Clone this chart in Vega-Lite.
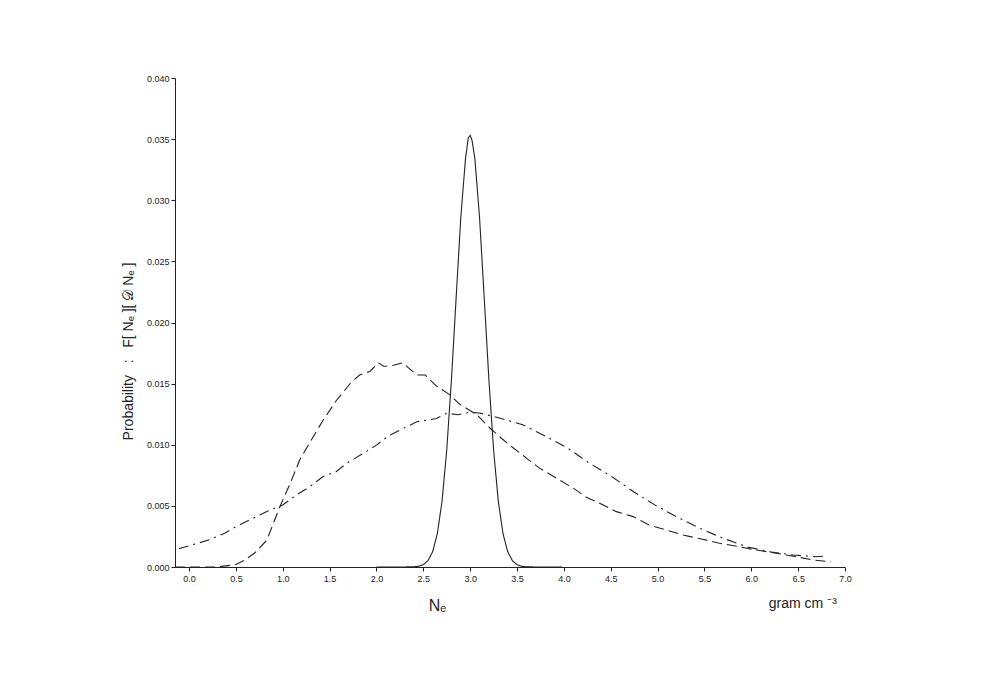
{
  "$schema": "https://vega.github.io/schema/vega-lite/v6.json",
  "width": 670,
  "height": 489,
  "autosize": "none",
  "padding": {"left": 175, "top": 78, "right": 136, "bottom": 116},
  "background": "white",
  "config": {
    "view": {"stroke": null},
    "font": "Liberation Sans",
    "axis": {
      "domainColor": "#222",
      "tickColor": "#222",
      "labelColor": "#222",
      "titleColor": "#222",
      "labelFont": "Liberation Sans",
      "titleFont": "Liberation Sans",
      "labelFontSize": 9,
      "grid": false,
      "titleFontWeight": "normal"
    }
  },
  "datasets": {
    "curves": [
      {"x": 2.0, "y": 0.0, "s": "narrow"},
      {"x": 2.3, "y": 0.0, "s": "narrow"},
      {"x": 2.35, "y": 0.00002, "s": "narrow"},
      {"x": 2.4, "y": 0.00002, "s": "narrow"},
      {"x": 2.45, "y": 0.00006, "s": "narrow"},
      {"x": 2.5, "y": 0.00019, "s": "narrow"},
      {"x": 2.55, "y": 0.00052, "s": "narrow"},
      {"x": 2.6, "y": 0.00126, "s": "narrow"},
      {"x": 2.65, "y": 0.00274, "s": "narrow"},
      {"x": 2.7, "y": 0.0054, "s": "narrow"},
      {"x": 2.75, "y": 0.00957, "s": "narrow"},
      {"x": 2.8, "y": 0.0153, "s": "narrow"},
      {"x": 2.85, "y": 0.022, "s": "narrow"},
      {"x": 2.9, "y": 0.0286, "s": "narrow"},
      {"x": 2.95, "y": 0.0334, "s": "narrow"},
      {"x": 2.98, "y": 0.0351, "s": "narrow"},
      {"x": 3.0, "y": 0.0353, "s": "narrow"},
      {"x": 3.02, "y": 0.0349, "s": "narrow"},
      {"x": 3.05, "y": 0.0334, "s": "narrow"},
      {"x": 3.1, "y": 0.0286, "s": "narrow"},
      {"x": 3.15, "y": 0.022, "s": "narrow"},
      {"x": 3.2, "y": 0.0153, "s": "narrow"},
      {"x": 3.25, "y": 0.00957, "s": "narrow"},
      {"x": 3.3, "y": 0.0054, "s": "narrow"},
      {"x": 3.35, "y": 0.00274, "s": "narrow"},
      {"x": 3.4, "y": 0.00126, "s": "narrow"},
      {"x": 3.45, "y": 0.00052, "s": "narrow"},
      {"x": 3.5, "y": 0.00019, "s": "narrow"},
      {"x": 3.55, "y": 0.00006, "s": "narrow"},
      {"x": 3.6, "y": 0.00002, "s": "narrow"},
      {"x": 3.7, "y": 0.0, "s": "narrow"},
      {"x": 3.98, "y": 0.0, "s": "narrow"},

      {"x": -0.15, "y": 0.0, "s": "dashed"},
      {"x": 0.3, "y": 0.0, "s": "dashed"},
      {"x": 0.5, "y": 0.0002, "s": "dashed"},
      {"x": 0.6, "y": 0.0006, "s": "dashed"},
      {"x": 0.7, "y": 0.00114, "s": "dashed"},
      {"x": 0.83, "y": 0.0022, "s": "dashed"},
      {"x": 0.97, "y": 0.00495, "s": "dashed"},
      {"x": 1.08, "y": 0.00685, "s": "dashed"},
      {"x": 1.18, "y": 0.00875, "s": "dashed"},
      {"x": 1.29, "y": 0.0102, "s": "dashed"},
      {"x": 1.43, "y": 0.012, "s": "dashed"},
      {"x": 1.57, "y": 0.0136, "s": "dashed"},
      {"x": 1.73, "y": 0.0151, "s": "dashed"},
      {"x": 1.82, "y": 0.0157, "s": "dashed"},
      {"x": 1.93, "y": 0.016, "s": "dashed"},
      {"x": 2.02, "y": 0.0167, "s": "dashed"},
      {"x": 2.08, "y": 0.0164, "s": "dashed"},
      {"x": 2.18, "y": 0.0165, "s": "dashed"},
      {"x": 2.28, "y": 0.0167, "s": "dashed"},
      {"x": 2.43, "y": 0.0157, "s": "dashed"},
      {"x": 2.52, "y": 0.0157, "s": "dashed"},
      {"x": 2.64, "y": 0.0148, "s": "dashed"},
      {"x": 2.78, "y": 0.0141, "s": "dashed"},
      {"x": 2.89, "y": 0.0133, "s": "dashed"},
      {"x": 3.07, "y": 0.01246, "s": "dashed"},
      {"x": 3.21, "y": 0.01137, "s": "dashed"},
      {"x": 3.33, "y": 0.01055, "s": "dashed"},
      {"x": 3.44, "y": 0.00986, "s": "dashed"},
      {"x": 3.6, "y": 0.00891, "s": "dashed"},
      {"x": 3.74, "y": 0.00809, "s": "dashed"},
      {"x": 3.92, "y": 0.00727, "s": "dashed"},
      {"x": 4.1, "y": 0.00645, "s": "dashed"},
      {"x": 4.24, "y": 0.00571, "s": "dashed"},
      {"x": 4.42, "y": 0.00508, "s": "dashed"},
      {"x": 4.56, "y": 0.00453, "s": "dashed"},
      {"x": 4.74, "y": 0.00412, "s": "dashed"},
      {"x": 4.91, "y": 0.00344, "s": "dashed"},
      {"x": 5.09, "y": 0.00303, "s": "dashed"},
      {"x": 5.27, "y": 0.00262, "s": "dashed"},
      {"x": 5.48, "y": 0.00227, "s": "dashed"},
      {"x": 5.66, "y": 0.00194, "s": "dashed"},
      {"x": 5.87, "y": 0.00166, "s": "dashed"},
      {"x": 6.05, "y": 0.00139, "s": "dashed"},
      {"x": 6.27, "y": 0.00112, "s": "dashed"},
      {"x": 6.48, "y": 0.00084, "s": "dashed"},
      {"x": 6.66, "y": 0.00057, "s": "dashed"},
      {"x": 6.85, "y": 0.00043, "s": "dashed"},

      {"x": -0.11, "y": 0.00149, "s": "dashdot"},
      {"x": 0.04, "y": 0.00182, "s": "dashdot"},
      {"x": 0.22, "y": 0.00223, "s": "dashdot"},
      {"x": 0.38, "y": 0.00277, "s": "dashdot"},
      {"x": 0.505, "y": 0.00332, "s": "dashdot"},
      {"x": 0.65, "y": 0.00386, "s": "dashdot"},
      {"x": 0.83, "y": 0.00454, "s": "dashdot"},
      {"x": 1.0, "y": 0.00508, "s": "dashdot"},
      {"x": 1.15, "y": 0.0059, "s": "dashdot"},
      {"x": 1.29, "y": 0.00658, "s": "dashdot"},
      {"x": 1.43, "y": 0.0074, "s": "dashdot"},
      {"x": 1.57, "y": 0.0078, "s": "dashdot"},
      {"x": 1.68, "y": 0.00848, "s": "dashdot"},
      {"x": 1.86, "y": 0.0093, "s": "dashdot"},
      {"x": 2.0, "y": 0.00997, "s": "dashdot"},
      {"x": 2.125, "y": 0.0107, "s": "dashdot"},
      {"x": 2.285, "y": 0.01133, "s": "dashdot"},
      {"x": 2.43, "y": 0.01188, "s": "dashdot"},
      {"x": 2.53, "y": 0.012, "s": "dashdot"},
      {"x": 2.64, "y": 0.01215, "s": "dashdot"},
      {"x": 2.75, "y": 0.01258, "s": "dashdot"},
      {"x": 2.87, "y": 0.01245, "s": "dashdot"},
      {"x": 2.99, "y": 0.01265, "s": "dashdot"},
      {"x": 3.1, "y": 0.0126, "s": "dashdot"},
      {"x": 3.31, "y": 0.01219, "s": "dashdot"},
      {"x": 3.56, "y": 0.01164, "s": "dashdot"},
      {"x": 3.81, "y": 0.01068, "s": "dashdot"},
      {"x": 4.04, "y": 0.00973, "s": "dashdot"},
      {"x": 4.27, "y": 0.0085, "s": "dashdot"},
      {"x": 4.51, "y": 0.0074, "s": "dashdot"},
      {"x": 4.74, "y": 0.00617, "s": "dashdot"},
      {"x": 4.97, "y": 0.00508, "s": "dashdot"},
      {"x": 5.2, "y": 0.00412, "s": "dashdot"},
      {"x": 5.45, "y": 0.00317, "s": "dashdot"},
      {"x": 5.7, "y": 0.00235, "s": "dashdot"},
      {"x": 5.95, "y": 0.00166, "s": "dashdot"},
      {"x": 6.19, "y": 0.00125, "s": "dashdot"},
      {"x": 6.45, "y": 0.00098, "s": "dashdot"},
      {"x": 6.69, "y": 0.00084, "s": "dashdot"},
      {"x": 6.8, "y": 0.0009, "s": "dashdot"}
    ]
  },
  "layer": [
    {
      "data": {"name": "curves"},
      "mark": {"type": "line", "color": "#222", "strokeWidth": 1.1},
      "encoding": {
        "x": {
          "field": "x",
          "type": "quantitative",
          "scale": {"domain": [-0.15, 7.0], "nice": false, "zero": false},
          "axis": {
            "title": "Nₑ",
            "titleFontSize": 16,
            "titleX": 262,
            "titleY": 38,
            "titleAnchor": null,
            "titleAlign": "center",
            "titleBaseline": "middle",
            "values": [0, 0.25, 0.5, 0.75, 1, 1.25, 1.5, 1.75, 2, 2.25, 2.5, 2.75, 3, 3.25, 3.5, 3.75, 4, 4.25, 4.5, 4.75, 5, 5.25, 5.5, 5.75, 6, 6.25, 6.5, 6.75, 7],
            "labelExpr": "round(datum.value*4) % 2 == 0 ? format(datum.value, '.1f') : ''",
            "tickSize": {"condition": {"test": "round(datum.value*4) % 2 == 0", "value": 4}, "value": 3},
            "labelPadding": 3,
            "labelFlush": false,
            "labelOverlap": false
          }
        },
        "y": {
          "field": "y",
          "type": "quantitative",
          "scale": {"domain": [0, 0.04], "nice": false},
          "axis": {
            "title": "Probability\u00a0\u00a0\u00a0:\u00a0\u00a0\u00a0F[\u00a0Nₑ\u00a0][\u00a0𝒟\u00a0Nₑ\u00a0]",
            "titleFontSize": 14,
            "titleX": -47,
            "titleY": 273,
            "titleAngle": -90,
            "titleAlign": "center",
            "titleBaseline": "middle",
            "values": [0, 0.0025, 0.005, 0.0075, 0.01, 0.0125, 0.015, 0.0175, 0.02, 0.0225, 0.025, 0.0275, 0.03, 0.0325, 0.035, 0.0375, 0.04],
            "labelExpr": "round(datum.value*400) % 2 == 0 ? format(datum.value, '.3f') : ''",
            "tickSize": {"condition": {"test": "round(datum.value*400) % 2 == 0", "value": 4}, "value": 2.5},
            "labelPadding": 2,
            "labelFlush": false,
            "labelOverlap": false
          }
        },
        "strokeDash": {
          "field": "s",
          "type": "nominal",
          "scale": {"domain": ["narrow", "dashed", "dashdot"], "range": [[1, 0], [10, 5], [10, 5, 2, 5]]},
          "legend": null
        }
      }
    },
    {
      "data": {"values": [{}]},
      "mark": {"type": "text", "fontSize": 14, "font": "Liberation Sans", "color": "#222", "dy": 37, "align": "center", "baseline": "middle"},
      "encoding": {
        "x": {"datum": 6.55, "type": "quantitative"},
        "y": {"datum": 0, "type": "quantitative"},
        "text": {"value": "gram cm ⁻³"}
      }
    }
  ]
}
